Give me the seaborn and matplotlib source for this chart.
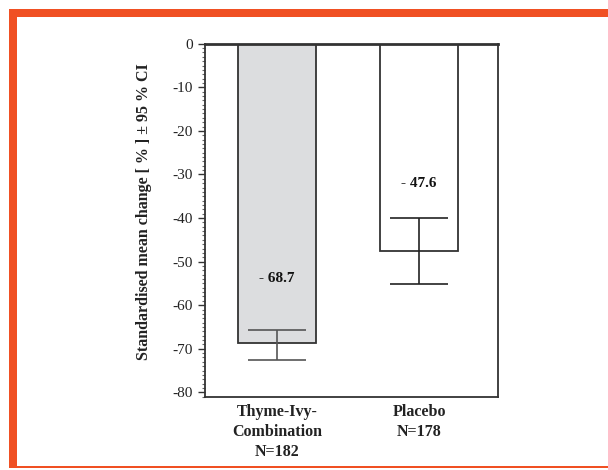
import numpy as np
import pandas as pd
import matplotlib.pyplot as plt
import seaborn as sns
from matplotlib.patches import Rectangle
from matplotlib.ticker import MultipleLocator

# values
groups = ["Thyme-Ivy-\nCombination\nN=182", "Placebo\nN=178"]
mean_change = [-68.7, -47.6]
ci_upper = [-65.7, -40.1]
ci_lower = [-72.6, -55.2]
value_labels = ["- 68.7", "- 47.6"]
y_ticks = [0, -10, -20, -30, -40, -50, -60, -70, -80]

ORANGE = "#f05023"
EDGE = "#333333"

sns.set_theme(style="white")
plt.rcParams["font.family"] = ["Liberation Serif", "DejaVu Serif"]

df = pd.DataFrame({"group": groups, "change": mean_change})

fig = plt.figure(figsize=(6.08, 4.70), dpi=100)
ax = fig.add_axes([0.337, 0.155, 0.482, 0.752])

sns.barplot(
    data=df, x="group", y="change", hue="group",
    palette=["#dcdddf", "#ffffff"], legend=False,
    edgecolor=EDGE, linewidth=1.3, width=0.55, errorbar=None, ax=ax,
)

# confidence intervals drawn as asymmetric error bars
means = np.array(mean_change)
yerr = np.vstack([means - np.array(ci_lower), np.array(ci_upper) - means])
for i, col in enumerate(["#555555", "#222222"]):
    ax.errorbar(i, means[i], yerr=yerr[:, i:i + 1], fmt="none",
                ecolor=col, elinewidth=1.2, capsize=21, capthick=1.2)

# value labels inside the bars
label_y = [-53.8, -32.0]
for i, (txt, y) in enumerate(zip(value_labels, label_y)):
    ax.text(i, y, txt, ha="center", va="center", fontsize=11,
            fontweight="bold", color="#111111")

ax.set_xlim(-0.507, 1.556)
ax.set_ylim(-81.1, 0)
ax.set_yticks(y_ticks)
ax.set_yticklabels([str(t) for t in y_ticks], fontsize=11, color="#222222")
ax.yaxis.set_minor_locator(MultipleLocator(1))
ax.tick_params(axis="y", which="major", direction="out", length=5,
               width=1, color=EDGE, left=True)
ax.tick_params(axis="y", which="minor", direction="out", length=2.5,
               width=0.8, color="#666666", left=True)
ax.tick_params(axis="x", length=0, pad=5)
for lbl in ax.get_xticklabels():
    lbl.set_fontsize(11.5)
    lbl.set_fontweight("bold")
    lbl.set_color("#222222")
    lbl.set_linespacing(1.35)

ax.set_xlabel("")
ax.set_ylabel("Standardised mean change [ % ] \u00b1 95 % CI",
              fontsize=11.5, fontweight="bold", color="#222222")
ax.yaxis.set_label_coords(-0.181, 0.526)

for side, sp in ax.spines.items():
    sp.set_visible(True)
    sp.set_color(EDGE)
    sp.set_linewidth(1.3)
ax.spines["top"].set_linewidth(2)

# orange frame around the figure
fig.add_artist(Rectangle((0.014, 0.9638), 0.986, 0.017, transform=fig.transFigure,
                         facecolor=ORANGE, edgecolor="none"))
fig.add_artist(Rectangle((0.014, 0.006), 0.014, 0.975, transform=fig.transFigure,
                         facecolor=ORANGE, edgecolor="none"))
fig.add_artist(Rectangle((0.014, 0.004), 0.986, 0.0045, transform=fig.transFigure,
                         facecolor=ORANGE, edgecolor="none"))

fig.savefig("out.png", dpi=100)
plt.close(fig)
